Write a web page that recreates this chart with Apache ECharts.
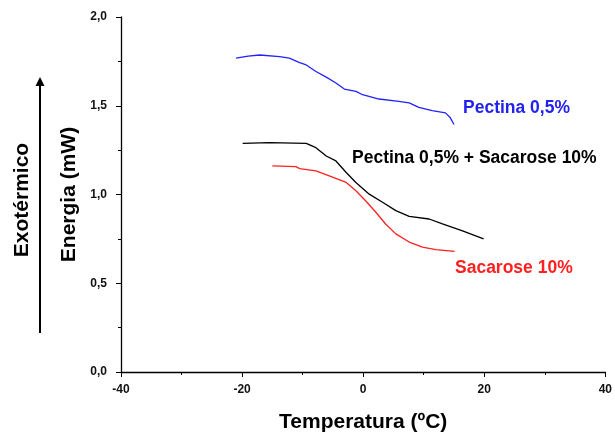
<!DOCTYPE html>
<html>
<head>
<meta charset="utf-8">
<script src="https://cdn.jsdelivr.net/npm/echarts@6/dist/echarts.min.js"></script>
<style>
  html, body { margin: 0; padding: 0; background: #fff; }
  #chart { width: 615px; height: 438px; }
</style>
</head>
<body>
<div id="chart"></div>
<script>
// [temperatura, energia]
const pectina = [
  [-21.0, 1.768], [-19.0, 1.780], [-17.1, 1.786], [-13.8, 1.777], [-12.2, 1.768],
  [-10.5, 1.743], [-9.4, 1.730], [-7.8, 1.693], [-6.1, 1.661], [-4.5, 1.628],
  [-3.1, 1.594], [-1.2, 1.581], [-0.1, 1.562], [2.6, 1.538], [5.9, 1.525],
  [7.6, 1.516], [9.2, 1.491], [11.4, 1.473], [13.6, 1.460], [14.4, 1.432],
  [14.7, 1.440], [15.0, 1.394]
];
const pectinaSacarose = [
  [-19.9, 1.288], [-15.5, 1.292], [-9.4, 1.288], [-7.8, 1.264], [-6.1, 1.217],
  [-4.5, 1.189], [-2.8, 1.124], [-1.2, 1.068], [1.0, 1.002], [3.2, 0.956],
  [5.4, 0.909], [7.6, 0.877], [10.9, 0.862], [13.1, 0.834], [16.3, 0.797],
  [19.9, 0.750]
];
const sacarose = [
  [-15.0, 1.161], [-11.1, 1.157], [-10.5, 1.146], [-7.8, 1.133], [-5.6, 1.105],
  [-2.8, 1.068], [-1.2, 1.021], [0.4, 0.965], [2.1, 0.900], [3.7, 0.834],
  [5.4, 0.778], [7.6, 0.732], [9.8, 0.704], [12.0, 0.690], [15.1, 0.679]
];
const seriesNames = ['Pectina 0,5%', 'Pectina 0,5% + Sacarose 10%', 'Sacarose 10%'];

const chart = echarts.init(document.getElementById('chart'));
const font = 'Liberation Sans, Arial, sans-serif';

const option = {
  animation: false,
  textStyle: { fontFamily: font },
  grid: { left: 121, right: 8, top: 17, bottom: 64 },
  xAxis: {
    type: 'value',
    min: -40, max: 40, interval: 20,
    name: 'Temperatura (ºC)',
    nameLocation: 'middle',
    nameGap: 40,
    nameTextStyle: { fontSize: 21, fontWeight: 'bold', color: '#000', fontFamily: font },
    axisLine: { onZero: false, lineStyle: { color: '#000', width: 1.3 } },
    axisTick: { length: 5, lineStyle: { color: '#000' } },
    minorTick: { show: true, splitNumber: 2, length: 3, lineStyle: { color: '#000' } },
    axisLabel: { margin: 12, fontSize: 12, fontWeight: 'bold', color: '#111', fontFamily: font },
    splitLine: { show: false }
  },
  yAxis: {
    type: 'value',
    min: 0, max: 2, interval: 0.5,
    name: 'Energia (mW)',
    nameLocation: 'middle',
    nameRotate: 90,
    nameGap: 37,
    nameTextStyle: { fontSize: 21, fontWeight: 'bold', color: '#000', fontFamily: font },
    axisLine: { show: true, onZero: false, lineStyle: { color: '#000', width: 1.3 } },
    axisTick: { show: true, length: 5, lineStyle: { color: '#000' } },
    minorTick: { show: true, splitNumber: 2, length: 3, lineStyle: { color: '#000' } },
    axisLabel: {
      margin: 14, fontSize: 12, fontWeight: 'bold', color: '#111', fontFamily: font,
      formatter: v => v.toFixed(1).replace('.', ',')
    },
    splitLine: { show: false }
  },
  series: [
    { name: seriesNames[0], type: 'line', data: pectina, showSymbol: false,
      lineStyle: { color: '#2222ff', width: 1.3 } },
    { name: seriesNames[1], type: 'line', data: pectinaSacarose, showSymbol: false,
      lineStyle: { color: '#000', width: 1.3 } },
    { name: seriesNames[2], type: 'line', data: sacarose, showSymbol: false,
      lineStyle: { color: '#ff2020', width: 1.3 } }
  ],
  graphic: [
    { type: 'text', left: 463, top: 99,
      style: { text: seriesNames[0], fill: '#2222ee', font: 'bold 17.5px ' + font } },
    { type: 'text', left: 352, top: 149,
      style: { text: seriesNames[1], fill: '#000', font: 'bold 17.5px ' + font } },
    { type: 'text', left: 455, top: 259,
      style: { text: seriesNames[2], fill: '#ff2020', font: 'bold 17.5px ' + font } },
    { type: 'text', x: 22, y: 200, rotation: Math.PI / 2,
      style: { text: 'Exotérmico', fill: '#000', font: 'bold 21px ' + font,
        align: 'center', verticalAlign: 'middle' } },
    { type: 'line', shape: { x1: 40, y1: 333, x2: 40, y2: 84 },
      style: { stroke: '#000', lineWidth: 2 } },
    { type: 'polygon', shape: { points: [[40, 77], [35.5, 86], [44.5, 86]] },
      style: { fill: '#000' } }
  ]
};

chart.setOption(option);
</script>
</body>
</html>
